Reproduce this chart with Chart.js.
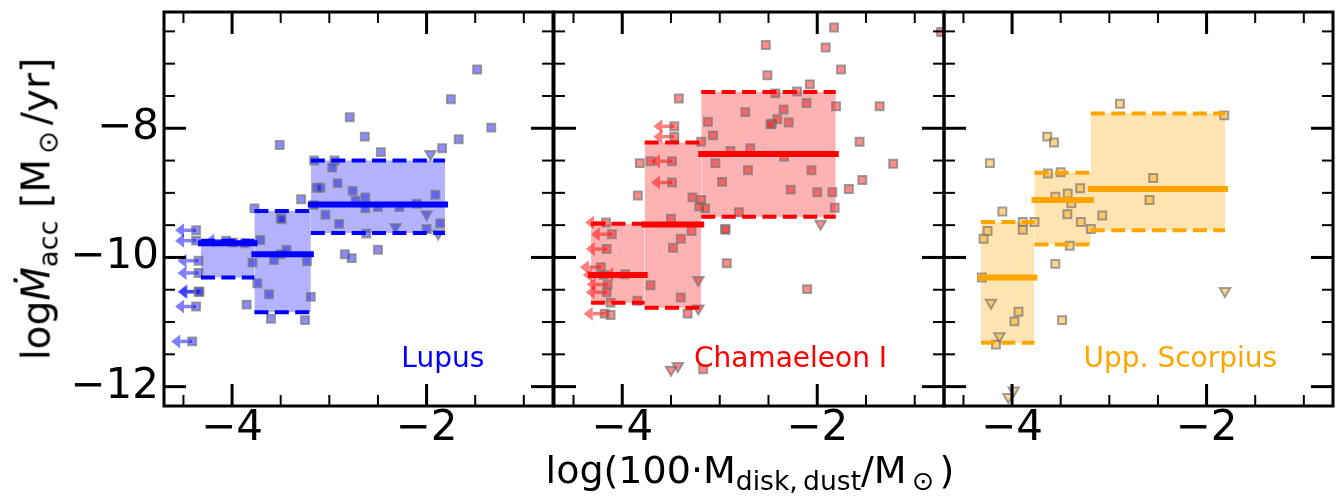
<!DOCTYPE html>
<html>
<head>
<meta charset="utf-8">
<script src="https://cdn.jsdelivr.net/npm/chart.js@4.4.1/dist/chart.umd.min.js"></script>
<style>
html,body{margin:0;padding:0;background:#fff;}
#wrap{position:relative;width:1341px;height:497px;overflow:hidden;font-family:'DejaVu Sans',sans-serif;color:#000;}
#wrap canvas{position:absolute;left:0;top:0;}
.sb{font-size:0.7em;position:relative;top:0.28em;}
#xtitle{position:absolute;left:750px;top:451px;transform:translateX(-50%);font-size:38px;line-height:38px;white-space:nowrap;}
#ytitle{position:absolute;left:38px;top:209px;transform:translate(-50%,-50%) rotate(-90deg);font-size:39px;line-height:39px;white-space:nowrap;}
</style>
</head>
<body>
<div id="wrap">
<canvas id="c0" width="1341" height="497" style="width:1341px;height:497px"></canvas>
<canvas id="c1" width="1341" height="497" style="width:1341px;height:497px"></canvas>
<canvas id="c2" width="1341" height="497" style="width:1341px;height:497px"></canvas>
<div id="xtitle">log(100·M<span class="sb">disk,&#8201;dust</span>/M<span class="sb">&#8201;⊙&#8201;</span>)</div>
<div id="ytitle">log<i>Ṁ</i><span class="sb">acc</span> [M<span class="sb">&#8201;⊙&#8201;</span>/yr]</div>
</div>
<script>
// ---- data ----
const xEdges = [-4.32, -3.77, -3.19, -1.81];
const xTickValues = [-4, -2];
const yTickValues = [-12, -10, -8];

const lupusMedian = [-9.78, -9.95, -9.18];
const lupusLow = [-10.31, -10.85, -9.62];
const lupusHigh = [-9.74, -9.28, -8.50];
const lupusDet = [[-3.99,-9.77],[-3.87,-9.78],[-3.71,-9.73],[-3.79,-10.08],[-3.77,-9.24],[-3.50,-9.39],[-3.49,-9.41],[-3.29,-9.10],[-3.57,-10.04],[-3.50,-9.95],[-3.44,-9.88],[-3.23,-10.06],[-3.74,-10.40],[-3.62,-10.57],[-3.19,-10.61],[-3.85,-10.73],[-3.60,-10.95],[-3.25,-10.97],[-3.51,-8.26],
[-1.48,-7.09],[-1.75,-7.55],[-1.335,-7.99],[-1.67,-8.17],[-1.84,-8.31],[-2.79,-7.83],[-2.635,-8.13],[-2.47,-8.37],[-3.156,-8.50],[-2.946,-8.50],[-2.97,-8.61],[-2.915,-8.85],[-3.13,-8.92],[-3.09,-8.92],[-2.76,-8.97],[-2.73,-9.12],[-2.63,-9.07],[-2.63,-9.24],[-2.50,-9.22],[-2.28,-9.22],[-2.10,-9.17],[-1.91,-9.03],[-3.04,-9.34],[-2.90,-9.48],[-2.00,-9.56],[-1.86,-9.47],[-2.62,-9.63],[-3.16,-9.19],[-2.84,-9.95],[-2.77,-10.01],[-2.50,-9.88]];
const lupusXul = [[-4.37,-9.58],[-4.37,-9.74],[-4.345,-10.05],[-4.345,-10.24],[-4.345,-10.53],[-4.335,-10.53],[-4.37,-10.76],[-4.41,-11.30],[-4.06,-9.74]];
const lupusYul = [[-1.96,-8.40],[-2.00,-9.33],[-2.32,-9.53],[-1.88,-9.63]];

const chaMedian = [-10.27, -9.49, -8.40];
const chaLow = [-10.70, -10.78, -9.37];
const chaHigh = [-9.48, -8.22, -7.44];
const chaDet = [[-3.71,-8.51],[-3.82,-8.54],[-3.84,-9.04],[-3.28,-9.07],[-3.19,-9.11],[-3.21,-9.21],[-3.15,-9.24],[-3.50,-9.40],[-3.29,-9.59],[-3.40,-9.71],[-3.48,-9.85],[-3.71,-10.43],[-3.40,-10.62],[-3.33,-10.87],[-3.845,-10.67],[-4.12,-10.70],[-4.12,-10.89],[-3.17,-11.73],[-3.42,-7.54],
[-1.828,-6.44],[-2.528,-6.71],[-1.914,-6.75],[-1.756,-7.09],[-2.511,-7.18],[-2.076,-7.32],[-2.43,-7.46],[-2.207,-7.43],[-2.11,-7.61],[-1.36,-7.66],[-1.807,-7.66],[-2.738,-7.75],[-2.345,-7.71],[-3.121,-7.90],[-2.466,-7.93],[-2.48,-7.94],[-2.41,-7.86],[-2.293,-7.91],[-3.069,-8.11],[-3.19,-8.21],[-2.89,-8.35],[-2.687,-8.31],[-2.34,-8.44],[-1.566,-8.21],[-1.221,-8.55],[-3.045,-8.54],[-2.711,-8.65],[-2.059,-8.65],[-2.976,-8.83],[-1.538,-8.80],[-1.676,-8.94],[-2.273,-8.95],[-2.0,-8.99],[-1.845,-8.99],[-1.821,-9.23],[-2.804,-9.30],[-2.945,-9.56],[-2.94,-9.57],[-2.928,-10.09],[-2.104,-10.49],[-0.73,-6.51]];
const chaXul = [[-3.466,-7.97],[-3.466,-8.13],[-3.49,-8.51],[-3.49,-8.84],[-4.166,-9.46],[-4.107,-9.64],[-4.16,-9.87],[-4.22,-10.15],[-4.19,-10.27],[-3.97,-10.26],[-4.15,-10.42],[-4.16,-10.54],[-4.18,-10.87]];
const chaYul = [[-3.22,-10.35],[-3.22,-10.79],[-3.50,-11.74],[-3.43,-11.68],[-1.966,-9.48]];

const uscMedian = [-10.31, -9.11, -8.94];
const uscLow = [-11.32, -9.80, -9.58];
const uscHigh = [-9.45, -8.69, -7.77];
const uscDet = [[-4.228,-8.54],[-3.638,-8.13],[-3.569,-8.22],[-4.10,-9.29],[-4.293,-9.71],[-4.252,-9.59],[-3.89,-9.45],[-3.89,-9.57],[-3.769,-9.45],[-3.631,-8.70],[-3.50,-8.68],[-3.555,-9.06],[-3.428,-9.01],[-3.39,-9.16],[-3.30,-8.93],[-3.431,-9.33],[-3.293,-9.45],[-3.19,-9.56],[-3.407,-9.82],[-3.555,-10.10],[-4.31,-10.31],[-3.934,-10.84],[-3.976,-10.99],[-4.166,-11.35],[-3.486,-10.97],[-2.891,-7.62],[-1.818,-7.80],[-2.549,-8.77],[-2.587,-9.11],[-3.073,-9.35]];
const uscXul = [];
const uscYul = [[-4.217,-10.70],[-4.131,-11.22],[-4.038,-12.16],[-3.983,-12.06],[-1.811,-10.52]];

const panelNames = ['Lupus', 'Chamaeleon I', 'Upp. Scorpius'];

// ---- styling / layout ----
const FONT = "'DejaVu Sans', sans-serif";
const panels = [
  {name: panelNames[0], color: 'rgb(0,0,255)', rgb: '0,0,255', med: lupusMedian, lo: lupusLow, hi: lupusHigh, det: lupusDet, xul: lupusXul, yul: lupusYul, labelX: -2.26, padL: 0, padR: 788, showY: true},
  {name: panelNames[1], color: 'rgb(255,0,0)', rgb: '255,0,0', med: chaMedian, lo: chaLow, hi: chaHigh, det: chaDet, xul: chaXul, yul: chaYul, labelX: -3.265, padL: 554, padR: 397, showY: false},
  {name: panelNames[2], color: 'rgb(255,165,0)', rgb: '255,165,0', med: uscMedian, lo: uscLow, hi: uscHigh, det: uscDet, xul: uscXul, yul: uscYul, labelX: -3.265, padL: 944, padR: 5, showY: false}
];
const labelY = -11.69;
const fmt = v => (v < 0 ? '\u2212' : '') + Math.abs(v);
const toPts = arr => arr.map(p => ({x: p[0], y: p[1]}));

const framePlugin = {
  id: 'frame',
  beforeDatasetDraw(chart, args) {
    const ds = chart.data.datasets[args.index];
    if (!ds.arrows) return;
    const ctx = chart.ctx, xs = chart.scales.x, ys = chart.scales.y;
    ctx.save();
    ctx.beginPath();
    ctx.rect(chart.chartArea.left, chart.chartArea.top, chart.chartArea.width, chart.chartArea.height);
    ctx.clip();
    ctx.fillStyle = ds.arrowColor;
    ctx.strokeStyle = ds.arrowColor;
    ds.data.forEach(p => {
      const px = xs.getPixelForValue(p.x), py = ys.getPixelForValue(p.y);
      ctx.lineWidth = 3.5;
      ctx.beginPath();
      ctx.moveTo(px, py);
      ctx.lineTo(px - 12, py);
      ctx.stroke();
      ctx.beginPath();
      ctx.moveTo(px - 21, py);
      ctx.lineTo(px - 12, py - 7);
      ctx.lineTo(px - 12, py + 7);
      ctx.closePath();
      ctx.fill();
    });
    ctx.restore();
  },
  afterDatasetsDraw(chart, args, opts) {
    const ctx = chart.ctx, a = chart.chartArea, xs = chart.scales.x, ys = chart.scales.y;
    ctx.save();
    // panel label
    ctx.font = '28px ' + FONT;
    ctx.fillStyle = opts.labelColor;
    ctx.textAlign = 'left';
    ctx.textBaseline = 'alphabetic';
    ctx.fillText(opts.label, xs.getPixelForValue(opts.labelX), ys.getPixelForValue(labelY));
    ctx.strokeStyle = '#000';
    ctx.lineCap = 'butt';
    const tick = (x1, y1, x2, y2, w) => { ctx.lineWidth = w; ctx.beginPath(); ctx.moveTo(x1, y1); ctx.lineTo(x2, y2); ctx.stroke(); };
    // y ticks
    for (let v = -12.5; v <= -6; v += 0.5) {
      if (v < ys.min || v > ys.max) continue;
      const p = ys.getPixelForValue(v);
      const major = yTickValues.includes(v);
      const L = major ? 22 : 11, w = major ? 3 : 2;
      tick(a.left, p, a.left + L, p, w);
      tick(a.right, p, a.right - L, p, w);
    }
    // x ticks
    for (let v = -5; v <= -0.5; v += 0.5) {
      if (v <= xs.min || v >= xs.max) continue;
      const p = xs.getPixelForValue(v);
      const major = xTickValues.includes(v);
      const L = major ? 22 : 11, w = major ? 3 : 2;
      tick(p, a.bottom, p, a.bottom - L, w);
      tick(p, a.top, p, a.top + L, w);
    }
    ctx.lineWidth = 3;
    ctx.strokeRect(a.left, a.top, a.right - a.left, a.bottom - a.top);
    ctx.restore();
  }
};

panels.forEach((P, i) => {
  const ds = [];
  // median lines (top-most)
  for (let b = 0; b < 3; b++) {
    ds.push({type: 'line', data: [{x: xEdges[b], y: P.med[b]}, {x: xEdges[b + 1], y: P.med[b]}], borderColor: P.color, borderWidth: 6, borderCapStyle: 'square', pointRadius: 0, fill: false});
  }
  // percentile dashed lines
  for (let b = 0; b < 3; b++) {
    ds.push({type: 'line', data: [{x: xEdges[b], y: P.hi[b]}, {x: xEdges[b + 1], y: P.hi[b]}], borderColor: P.color, borderWidth: 4, borderDash: [14, 6.4], borderCapStyle: 'butt', pointRadius: 0, fill: false});
    ds.push({type: 'line', data: [{x: xEdges[b], y: P.lo[b]}, {x: xEdges[b + 1], y: P.lo[b]}], borderColor: P.color, borderWidth: 4, borderDash: [14, 6.4], borderCapStyle: 'butt', pointRadius: 0, fill: false});
  }
  const ptCommon = {pointBackgroundColor: 'rgba(' + P.rgb + ',0.45)', pointBorderColor: 'rgba(120,120,120,0.7)', pointBorderWidth: 2, borderWidth: 2, showLine: false, clip: 0};
  ds.push(Object.assign({type: 'scatter', data: toPts(P.xul), pointStyle: 'rect', pointRadius: 5.6, arrows: true, arrowColor: 'rgba(' + P.rgb + ',0.5)'}, ptCommon));
  ds.push(Object.assign({type: 'scatter', data: toPts(P.det), pointStyle: 'rect', pointRadius: 5.6}, ptCommon));
  ds.push(Object.assign({type: 'scatter', data: toPts(P.yul), pointStyle: 'triangle', pointRotation: 180, pointRadius: 6}, ptCommon));
  // boxes (bottom-most)
  for (let b = 0; b < 3; b++) {
    ds.push({type: 'line', data: [{x: xEdges[b], y: P.hi[b]}, {x: xEdges[b + 1], y: P.hi[b]}], borderColor: 'rgba(0,0,0,0)', borderWidth: 0, pointRadius: 0, fill: false});
    ds.push({type: 'line', data: [{x: xEdges[b], y: P.lo[b]}, {x: xEdges[b + 1], y: P.lo[b]}], borderColor: 'rgba(0,0,0,0)', borderWidth: 0, pointRadius: 0, fill: '-1', backgroundColor: 'rgba(' + P.rgb + ',0.3)'});
  }
  new Chart(document.getElementById('c' + i), {
    type: 'scatter',
    data: {datasets: ds},
    plugins: [framePlugin],
    options: {
      responsive: false,
      animation: false,
      events: [],
      layout: {padding: {left: P.padL, right: P.padR, top: 12, bottom: 0}},
      plugins: {legend: {display: false}, tooltip: {enabled: false}, frame: {label: P.name, labelColor: P.color, labelX: P.labelX}},
      scales: {
        x: {
          type: 'linear', min: -4.7, max: -0.7,
          afterBuildTicks: s => { s.ticks = xTickValues.map(v => ({value: v})); },
          afterFit: s => { s.height = 91; s.paddingLeft = 0; s.paddingRight = 0; },
          grid: {display: false, drawTicks: false},
          border: {display: false},
          ticks: {autoSkip: false, maxRotation: 0, padding: 2, color: '#000', font: {family: FONT, size: 42, lineHeight: 1}, callback: fmt}
        },
        y: {
          type: 'linear', min: -12.3, max: -6.2, display: P.showY,
          afterBuildTicks: s => { s.ticks = yTickValues.map(v => ({value: v})); },
          afterFit: s => { s.width = P.showY ? 164 : 0; s.paddingTop = 0; s.paddingBottom = 0; },
          grid: {display: false, drawTicks: false},
          border: {display: false},
          ticks: {autoSkip: false, padding: 5, color: '#000', font: {family: FONT, size: 42, lineHeight: 1}, callback: fmt}
        }
      }
    }
  });
});
</script>
</body>
</html>
